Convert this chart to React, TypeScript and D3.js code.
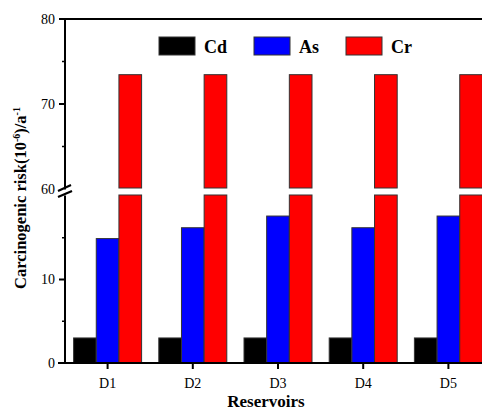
import React from "react";
import * as d3 from "d3";

const categories = ["D1", "D2", "D3", "D4", "D5"];
const seriesNames = ["Cd", "As", "Cr"];
const cdValues = [3.0, 3.0, 3.0, 3.0, 3.0];
const asValues = [14.9, 16.2, 17.6, 16.2, 17.6];
const crValues = [73.45, 73.45, 73.45, 73.45, 73.45];
const colors = ["#000000", "#0000ff", "#ff0000"];
const lowerTicks = [0, 10];
const lowerMinor = [5, 15];
const upperTicks = [60, 70, 80];
const upperMinor = [65, 75];

const W = 482;
const H = 412;
const left = 65;
const right = 491;
const top = 19;
const bottom = 363;

export default function App() {
  const x = d3.scaleBand<string>().domain(categories).range([left, right]).padding(0);
  const inner = d3.scaleBand<string>().domain(seriesNames).range([-34, 34]).padding(0);
  const yLow = d3.scaleLinear().domain([0, 20]).range([bottom, 196]);
  const yUp = d3.scaleLinear().domain([60, 80]).range([189, top]);
  const series = [cdValues, asValues, crValues];
  const serif = "'Liberation Serif', 'Times New Roman', serif";

  const bars: React.ReactNode[] = [];
  series.forEach((vals, si) => {
    categories.forEach((c, ci) => {
      const v = vals[ci];
      const cx = (x(c) as number) + x.bandwidth() / 2 + (inner(seriesNames[si]) as number);
      const w = inner.bandwidth();
      if (v <= 20) {
        bars.push(
          <rect key={`l${si}${ci}`} x={cx} y={yLow(v)} width={w} height={bottom - yLow(v)}
            fill={colors[si]} stroke="#333" strokeWidth={1} />
        );
      } else {
        bars.push(
          <rect key={`l${si}${ci}`} x={cx} y={yLow(20) - 1} width={w} height={bottom - yLow(20) + 1}
            fill={colors[si]} stroke="#333" strokeWidth={1} />
        );
        bars.push(
          <rect key={`u${si}${ci}`} x={cx} y={yUp(v)} width={w} height={yUp(60) - 1 - yUp(v)}
            fill={colors[si]} stroke="#333" strokeWidth={1} />
        );
      }
    });
  });

  const legendX = [159, 254, 346];

  return (
    <svg width={W} height={H} style={{ position: "absolute", left: 0, top: 0, background: "#fff" }}
      fontFamily={serif}>
      <rect x={0} y={0} width={W} height={H} fill="#fff" />
      {bars}
      {/* frame top */}
      <line x1={left} x2={right} y1={top} y2={top} stroke="#000" strokeWidth={2} />
      {/* left axis */}
      <line x1={left} x2={left} y1={top} y2={bottom} stroke="#000" strokeWidth={2} />
      {/* bottom axis */}
      <line x1={left - 7} x2={right} y1={bottom} y2={bottom} stroke="#000" strokeWidth={2} />
      {/* break */}
      <rect x={left - 3} y={yUp(60) + 0.5} width={6} height={yLow(20) - yUp(60) - 1} fill="#fff" />
      <line x1={58} y1={191} x2={71} y2={185} stroke="#000" strokeWidth={2.2} />
      <line x1={58} y1={197} x2={72} y2={191} stroke="#000" strokeWidth={2.2} />
      {/* y ticks */}
      {lowerTicks.map((t) => (
        <g key={`lt${t}`}>
          <line x1={left - 6} x2={left} y1={yLow(t)} y2={yLow(t)} stroke="#000" strokeWidth={2} />
          <text x={left - 10} y={yLow(t)} dy="0.35em" textAnchor="end" fontSize={14}>{t}</text>
        </g>
      ))}
      {lowerMinor.map((t) => (
        <line key={`lm${t}`} x1={left - 3} x2={left} y1={yLow(t)} y2={yLow(t)} stroke="#000" strokeWidth={1.5} />
      ))}
      {upperTicks.map((t) => (
        <g key={`ut${t}`}>
          {t !== 60 && (
            <line x1={left - 6} x2={left} y1={yUp(t)} y2={yUp(t)} stroke="#000" strokeWidth={2} />
          )}
          <text x={left - 10} y={yUp(t)} dy="0.35em" textAnchor="end" fontSize={14}>{t}</text>
        </g>
      ))}
      {upperMinor.map((t) => (
        <line key={`um${t}`} x1={left - 3} x2={left} y1={yUp(t)} y2={yUp(t)} stroke="#000" strokeWidth={1.5} />
      ))}
      {/* x ticks */}
      {categories.map((c) => {
        const cx = (x(c) as number) + x.bandwidth() / 2;
        return (
          <g key={`xt${c}`}>
            <line x1={cx} x2={cx} y1={bottom} y2={bottom + 6} stroke="#000" strokeWidth={2} />
            <text x={cx} y={bottom + 25} textAnchor="middle" fontSize={14}>{c}</text>
          </g>
        );
      })}
      {/* axis titles */}
      <text x={266} y={407} textAnchor="middle" fontSize={17} fontWeight="bold">Reservoirs</text>
      <text transform="translate(26,198) rotate(-90)" textAnchor="middle" fontSize={16.5} fontWeight="bold">
        Carcinogenic risk(10<tspan dy={-6} fontSize={10}>-6</tspan><tspan dy={6}>)/a</tspan>
        <tspan dy={-6} fontSize={10}>-1</tspan>
      </text>
      {/* legend */}
      {seriesNames.map((s, i) => (
        <g key={`lg${s}`}>
          <rect x={legendX[i]} y={37} width={36} height={18} fill={colors[i]} stroke="#333" strokeWidth={1} />
          <text x={legendX[i] + 45} y={53} fontSize={18} fontWeight="bold">{s}</text>
        </g>
      ))}
    </svg>
  );
}
